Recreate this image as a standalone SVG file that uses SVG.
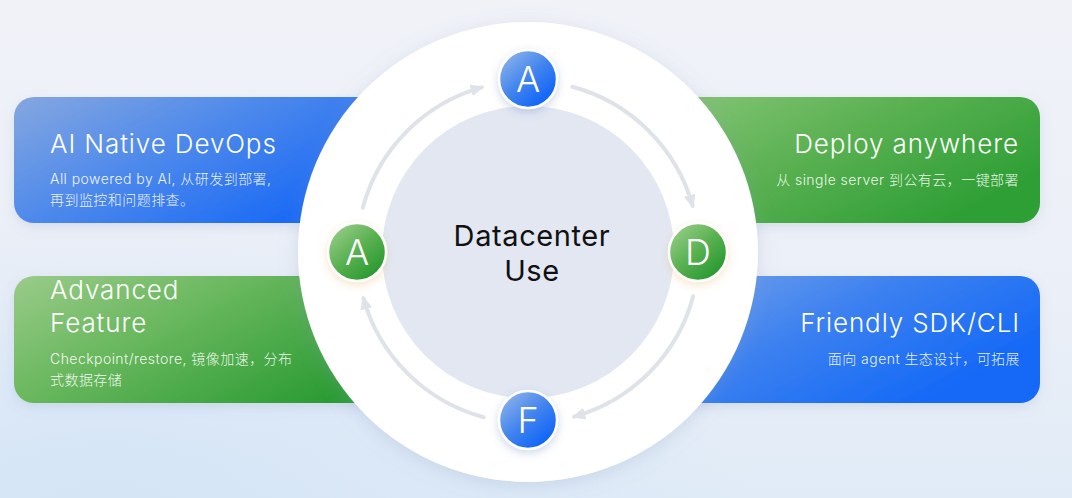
<svg xmlns="http://www.w3.org/2000/svg" width="1072" height="498" viewBox="0 0 1072 498">
  <defs>
    <linearGradient id="bg" x1="0" y1="0" x2="0" y2="1">
      <stop offset="0" stop-color="#f0f2f8"/>
      <stop offset="0.6" stop-color="#ebeff7"/>
      <stop offset="1" stop-color="#e0ebf7"/>
    </linearGradient>
    <radialGradient id="bgGlow" cx="0.1" cy="1" r="0.6">
      <stop offset="0" stop-color="#d3e4f6" stop-opacity="0.9"/>
      <stop offset="1" stop-color="#d3e4f6" stop-opacity="0"/>
    </radialGradient>
    <linearGradient id="cardBlueL" x1="0" y1="0" x2="1" y2="0.6">
      <stop offset="0" stop-color="#86a7e0"/>
      <stop offset="0.45" stop-color="#4f8aeb"/>
      <stop offset="1" stop-color="#1466f6"/>
    </linearGradient>
    <linearGradient id="cardBlueR" x1="0" y1="0" x2="1" y2="0.6">
      <stop offset="0" stop-color="#7aa6ea"/>
      <stop offset="0.5" stop-color="#3b80f0"/>
      <stop offset="1" stop-color="#1267f7"/>
    </linearGradient>
    <linearGradient id="cardGreenL" x1="0" y1="0" x2="1" y2="0.6">
      <stop offset="0" stop-color="#9acb89"/>
      <stop offset="0.45" stop-color="#68b75d"/>
      <stop offset="1" stop-color="#2c9c33"/>
    </linearGradient>
    <linearGradient id="cardGreenR" x1="0" y1="0" x2="1" y2="0.6">
      <stop offset="0" stop-color="#8ac77c"/>
      <stop offset="0.5" stop-color="#5bb152"/>
      <stop offset="1" stop-color="#2e9f35"/>
    </linearGradient>
    <linearGradient id="nodeBlue" x1="0.15" y1="0.1" x2="0.85" y2="0.9">
      <stop offset="0" stop-color="#86aeea"/>
      <stop offset="0.5" stop-color="#3f83ef"/>
      <stop offset="1" stop-color="#0c61f8"/>
    </linearGradient>
    <linearGradient id="nodeGreen" x1="0.15" y1="0.1" x2="0.85" y2="0.9">
      <stop offset="0" stop-color="#92cb83"/>
      <stop offset="0.5" stop-color="#57b04f"/>
      <stop offset="1" stop-color="#26982f"/>
    </linearGradient>
    <filter id="cardShadow" x="-10%" y="-20%" width="120%" height="150%">
      <feDropShadow dx="0" dy="4" stdDeviation="6" flood-color="#7a8db0" flood-opacity="0.18"/>
    </filter>
    <filter id="ringShadow" x="-20%" y="-20%" width="140%" height="140%">
      <feDropShadow dx="0" dy="4" stdDeviation="9" flood-color="#8a9cc0" flood-opacity="0.25"/>
    </filter>
    <filter id="nodeShadowB" x="-40%" y="-40%" width="180%" height="180%">
      <feDropShadow dx="0" dy="3" stdDeviation="4" flood-color="#5a7bbf" flood-opacity="0.3"/>
    </filter>
    <filter id="nodeShadowG" x="-40%" y="-40%" width="180%" height="180%">
      <feDropShadow dx="0" dy="3" stdDeviation="4" flood-color="#e8b86a" flood-opacity="0.35"/>
    </filter>
    <marker id="arrow" viewBox="0 0 14 12" refX="11" refY="6" markerWidth="14" markerHeight="12" markerUnits="userSpaceOnUse" orient="auto">
      <path d="M0,0 L14,6 L0,12 Z" fill="#dfe2e8"/>
    </marker>
  </defs>
  <style>
    .title { font-family: Inter, "Noto Sans CJK SC", sans-serif; font-size: 26px; font-weight: 300; letter-spacing: 0.9px; fill: #ffffff; }
    .sub { font-family: Inter, "Noto Sans CJK SC", sans-serif; font-size: 14px; font-weight: 300; letter-spacing: 0.45px; fill: #ffffff; fill-opacity: 0.92; }
    .center { font-family: Inter, "Noto Sans CJK SC", sans-serif; font-size: 29px; font-weight: 400; letter-spacing: 0.6px; fill: #111111; text-anchor: middle; }
    .letter { font-family: Inter, sans-serif; font-size: 36px; font-weight: 300; fill: #ffffff; text-anchor: middle; }
    .arc { fill: none; stroke: #dfe2e8; stroke-width: 4; stroke-linecap: round; }
    .nodeRing { stroke: #ffffff; stroke-width: 2.5; }
  </style>

  <!-- background -->
  <rect x="0" y="0" width="1072" height="498" fill="url(#bg)"/>
  <rect x="0" y="0" width="1072" height="498" fill="url(#bgGlow)"/>

  <!-- cards -->
  <g id="card-devops">
    <rect x="14" y="97" width="400" height="126" rx="20" fill="url(#cardBlueL)" filter="url(#cardShadow)"/>
    <text class="title" x="50" y="153">AI Native DevOps</text>
    <text class="sub" x="50" y="184">All powered by AI, 从研发到部署,</text>
    <text class="sub" x="50" y="205">再到监控和问题排查。</text>
  </g>
  <g id="card-deploy">
    <rect x="640" y="97" width="400" height="126" rx="20" fill="url(#cardGreenR)" filter="url(#cardShadow)"/>
    <text class="title" x="1019" y="153" text-anchor="end">Deploy anywhere</text>
    <text class="sub" x="1019" y="185" text-anchor="end">从 single server 到公有云，一键部署</text>
  </g>
  <g id="card-advanced">
    <rect x="14" y="276" width="400" height="127" rx="20" fill="url(#cardGreenL)" filter="url(#cardShadow)"/>
    <text class="title" x="50" y="299">Advanced</text>
    <text class="title" x="50" y="332">Feature</text>
    <text class="sub" x="50" y="364">Checkpoint/restore, 镜像加速，分布</text>
    <text class="sub" x="50" y="385">式数据存储</text>
  </g>
  <g id="card-sdk">
    <rect x="640" y="276" width="400" height="127" rx="20" fill="url(#cardBlueR)" filter="url(#cardShadow)"/>
    <text class="title" x="1020" y="332" text-anchor="end">Friendly SDK/CLI</text>
    <text class="sub" x="1020" y="364" text-anchor="end">面向 agent 生态设计，可拓展</text>
  </g>

  <!-- central ring -->
  <g id="hub">
    <circle cx="528" cy="252" r="230" fill="#ffffff" filter="url(#ringShadow)"/>
    <circle cx="528" cy="252" r="146" fill="#e2e7f2"/>
    <text class="center" x="532" y="246">Datacenter</text>
    <text class="center" x="532" y="281">Use</text>
  </g>

  <!-- connectors -->
  <g id="connectors">
    <path class="arc" d="M362.8,207.7 A171,171 0 0 1 481.7,87.4" marker-end="url(#arrow)"/>
    <path class="arc" d="M572.3,86.8 A171,171 0 0 1 692.6,205.7" marker-end="url(#arrow)"/>
    <path class="arc" d="M693.2,296.3 A171,171 0 0 1 574.3,416.6" marker-end="url(#arrow)"/>
    <path class="arc" d="M483.7,417.2 A171,171 0 0 1 363.4,298.3" marker-end="url(#arrow)"/>
  </g>

  <!-- nodes -->
  <g id="node-top-A">
    <circle class="nodeRing" cx="528" cy="79" r="29" fill="url(#nodeBlue)" filter="url(#nodeShadowB)"/>
    <text class="letter" x="528" y="92">A</text>
  </g>
  <g id="node-D">
    <circle class="nodeRing" cx="698" cy="252" r="29" fill="url(#nodeGreen)" filter="url(#nodeShadowG)"/>
    <text class="letter" x="698" y="265">D</text>
  </g>
  <g id="node-F">
    <circle class="nodeRing" cx="528" cy="420" r="29" fill="url(#nodeBlue)" filter="url(#nodeShadowB)"/>
    <text class="letter" x="528" y="433">F</text>
  </g>
  <g id="node-left-A">
    <circle class="nodeRing" cx="357" cy="252" r="29" fill="url(#nodeGreen)" filter="url(#nodeShadowG)"/>
    <text class="letter" x="357" y="265">A</text>
  </g>
</svg>
